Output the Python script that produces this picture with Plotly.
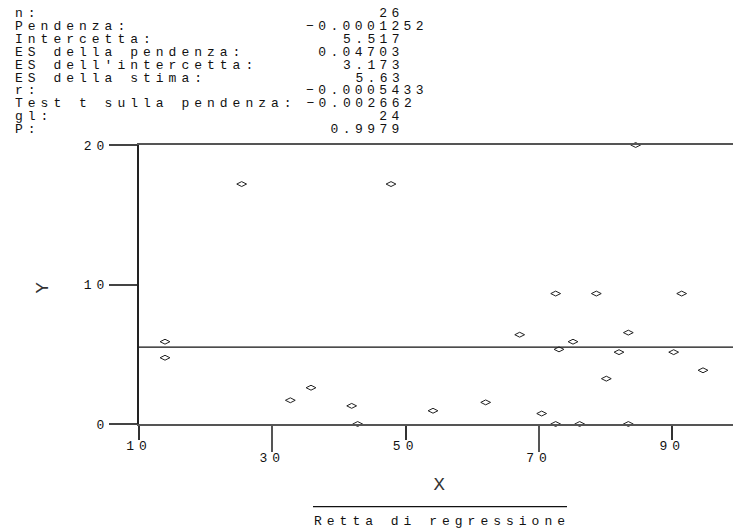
import plotly.graph_objects as go

# ---------------- data ----------------
x_vals = [25.4, 47.8, 13.9, 13.9, 32.7, 35.8, 41.9, 42.8, 84.5, 72.5, 78.6, 91.4, 67.1,
          83.4, 75.1, 73.0, 82.0, 90.2, 94.6, 80.1, 62.0, 54.1, 70.4, 72.5, 76.1, 83.4]
y_vals = [17.2, 17.2, 5.9, 4.75, 1.7, 2.6, 1.3, 0.0, 20.0, 9.35, 9.35, 9.35, 6.4,
          6.55, 5.9, 5.35, 5.15, 5.15, 3.85, 3.25, 1.55, 0.95, 0.75, 0.0, 0.0, 0.0]

stat_labels = ["n:", "Pendenza:", "Intercetta:", "ES della pendenza:", "ES dell'intercetta:",
               "ES della stima:", "r:", "Test t sulla pendenza:", "gl:", "P:"]
stat_values = ["26", "\u22120.0001252", "5.517", "0.04703", "3.173", "5.63",
               "\u22120.0005433", "\u22120.002662", "24", "0.9979"]

slope = -0.0001252
intercept = 5.517

x_ticks_short = [10, 50, 90]
x_ticks_long = [30, 70]
y_ticks = [0, 10, 20]
x_range = [10, 99.1]
y_range = [0, 20]

x_title = "X"
y_title = "Y"
legend_label = "Retta di regressione"

# ---------------- layout helpers ----------------
WIDTH, HEIGHT = 733, 529
L, T, W, H = 139, 145, 594, 279
FONT = "Liberation Mono, Courier New, monospace"
FS = 13
LS = 5.0          # letter spacing for labels / ticks (applied after drawing)
LSV = 4.4         # letter spacing for the value column
CWV = 7.8 + LSV   # effective char width of values


def pxx(p):
    return (p - L) / W


def pxy(p):
    return (T + H - p) / H


fig = go.Figure()

# regression line
fig.add_trace(go.Scatter(
    x=x_range, y=[intercept + slope * v for v in x_range],
    mode="lines", line=dict(color="#111", width=1.2),
    xaxis="x2", yaxis="y", hoverinfo="skip", showlegend=False))

# points
fig.add_trace(go.Scatter(
    x=x_vals, y=y_vals, mode="markers", cliponaxis=False,
    marker=dict(symbol="diamond-wide-open", size=7, color="#222",
                line=dict(color="#222", width=1)),
    showlegend=False))

annotations = []
for i, (lab, val) in enumerate(zip(stat_labels, stat_values)):
    base = 17.2 + 12.9 * i
    yc = pxy(base - 3.6)
    annotations.append(dict(
        text=lab, xref="paper", yref="paper", x=pxx(12.5), y=yc,
        xanchor="left", yanchor="middle", align="left", showarrow=False,
        font=dict(family=FONT, size=FS, color="#111")))
    xr = 401 + max(0, len(val) - 8) * CWV + LSV + 0.5
    annotations.append(dict(
        text=val, xref="paper", yref="paper", x=pxx(xr), y=yc,
        xanchor="right", yanchor="middle", align="right", showarrow=False,
        font=dict(family=FONT, size=FS, color="#111")))

# axis titles
annotations.append(dict(
    text=x_title, xref="paper", yref="paper", x=pxx(442), y=pxy(485),
    xanchor="center", yanchor="middle", showarrow=False,
    font=dict(family=FONT, size=19, color="#333")))
annotations.append(dict(
    text=y_title, xref="paper", yref="paper", x=pxx(43), y=pxy(285),
    xanchor="center", yanchor="middle", showarrow=False, textangle=-90,
    font=dict(family=FONT, size=19, color="#333")))
# legend text
annotations.append(dict(
    text=legend_label, xref="paper", yref="paper", x=pxx(442), y=pxy(521),
    xanchor="center", yanchor="middle", showarrow=False,
    font=dict(family=FONT, size=FS, color="#111")))

shapes = [dict(type="line", xref="paper", yref="paper",
               x0=pxx(313), x1=pxx(567), y0=pxy(506.7), y1=pxy(506.7),
               line=dict(color="#111", width=1.2))]

fig.update_layout(
    width=WIDTH, height=HEIGHT, autosize=False,
    margin=dict(l=L, r=WIDTH - L - W, t=T, b=HEIGHT - T - H, pad=0),
    paper_bgcolor="white", plot_bgcolor="white",
    showlegend=False,
    font=dict(family=FONT, size=FS, color="#111"),
    xaxis=dict(range=x_range, tickmode="array", tickvals=x_ticks_short,
               ticks="outside", ticklen=14, tickwidth=2, tickcolor="#333",
               ticklabelstandoff=-6,
               showline=True, linecolor="#555", linewidth=2, mirror=True,
               showgrid=False, zeroline=False,
               tickfont=dict(family=FONT, size=FS, color="#111")),
    xaxis2=dict(range=x_range, overlaying="x", anchor="y", side="bottom",
                tickmode="array", tickvals=x_ticks_long,
                ticks="outside", ticklen=27, tickwidth=2, tickcolor="#555",
                ticklabelstandoff=-6,
                showline=False, showgrid=False, zeroline=False,
                tickfont=dict(family=FONT, size=FS, color="#111")),
    yaxis=dict(range=y_range, tickmode="array", tickvals=y_ticks,
               ticks="outside", ticklen=28, tickwidth=2, tickcolor="#444",
               ticklabelstandoff=-3,
               showline=True, linecolor="#222", linewidth=2,
               showgrid=False, zeroline=False,
               tickfont=dict(family=FONT, size=FS, color="#111")),
    annotations=annotations,
    shapes=shapes,
)

vals_js = "[" + ",".join("'" + v + "'" for v in stat_values) + "]"
post = ("document.body.style.margin='0';document.body.style.padding='0';"
        "var s=document.createElement('style');"
        "s.textContent='.main-svg text{letter-spacing:" + str(LS) + "px}';"
        "document.head.appendChild(s);"
        "var vals=" + vals_js + ";"
        "document.querySelectorAll('.annotation-text').forEach(function(t){"
        "if(vals.indexOf(t.textContent)>=0){t.style.letterSpacing='" + str(LSV) + "px';}});")

fig.write_html("out.html", config={"displayModeBar": False}, post_script=post)
